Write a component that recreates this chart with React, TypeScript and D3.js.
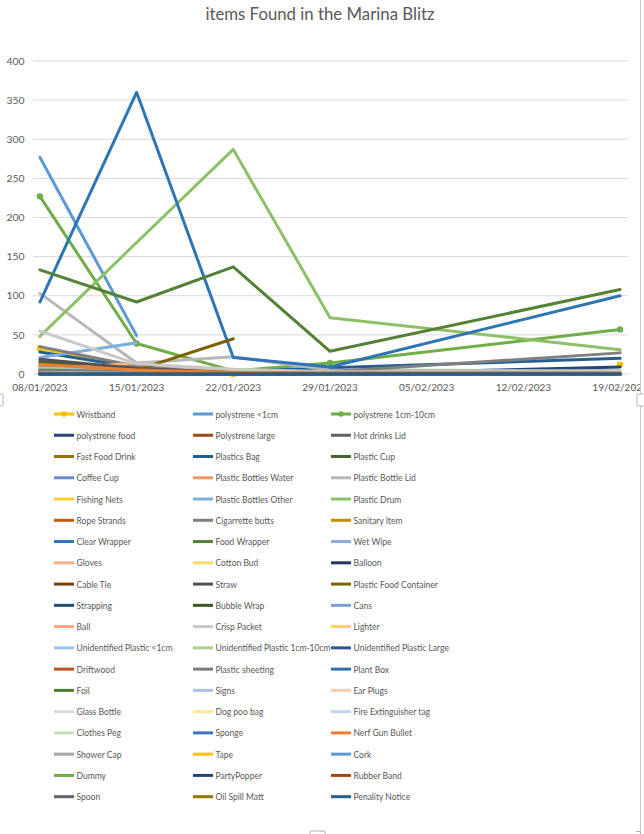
import React from "react";
import * as d3 from "d3";

const W = 644;
const H = 834;

const chartTitle = "items Found in the Marina Blitz";
const sampleDates = ["2023-01-08", "2023-01-15", "2023-01-22", "2023-01-29", "2023-02-19"];
const tickDates = ["2023-01-08", "2023-01-15", "2023-01-22", "2023-01-29", "2023-02-05", "2023-02-12", "2023-02-19"];
const yTicks = [0, 50, 100, 150, 200, 250, 300, 350, 400];

const seriesNames = [
  "Wristband", "polystrene <1cm", "polystrene 1cm-10cm",
  "polystrene food", "Polystrene large", "Hot drinks Lid",
  "Fast Food Drink", "Plastics Bag", "Plastic Cup",
  "Coffee Cup", "Plastic Bottles Water", "Plastic Bottle Lid",
  "Fishing Nets", "Plastic Bottles Other", "Plastic Drum",
  "Rope Strands", "Cigarrette butts", "Sanitary Item",
  "Clear Wrapper", "Food Wrapper", "Wet Wipe",
  "Gloves", "Cotton Bud", "Balloon",
  "Cable Tie", "Straw", "Plastic Food Container",
  "Strapping", "Bubble Wrap", "Cans",
  "Ball", "Crisp Packet", "Lighter",
  "Unidentified Plastic <1cm", "Unidentified Plastic 1cm-10cm", "Unidentified Plastic Large",
  "Driftwood", "Plastic sheeting", "Plant Box",
  "Foil", "Signs", "Ear Plugs",
  "Glass Bottle", "Dog poo bag", "Fire Extinguisher tag",
  "Clothes Peg", "Sponge", "Nerf Gun Bullet",
  "Shower Cap", "Tape", "Cork",
  "Dummy", "PartyPopper", "Rubber Band",
  "Spoon", "Oil Spill Matt", "Penality Notice",
];

const seriesColors = [
  "#FFC000", "#5B9BD5", "#70AD47",
  "#264478", "#9E480E", "#636363",
  "#997300", "#255E91", "#43682B",
  "#698ED0", "#F1975A", "#B7B7B7",
  "#FFCD33", "#7CAFDD", "#8CC168",
  "#C55A11", "#7F7F7F", "#BF9000",
  "#2E75B6", "#548235", "#8FAADC",
  "#F4B183", "#FFD966", "#203864",
  "#843C0C", "#525252", "#7F6000",
  "#1F4E79", "#385723", "#7F9ED8",
  "#F4A582", "#C9C9C9", "#FFD34D",
  "#9DC3E6", "#A9D18E", "#2F5597",
  "#B4561A", "#7B7B7B", "#2E6FB0",
  "#507E32", "#A9BFE5", "#F8CBAD",
  "#DBDBDB", "#FFE699", "#BDD7EE",
  "#C5E0B4", "#4472C4", "#ED7D31",
  "#A5A5A5", "#FFC000", "#5B9BD5",
  "#70AD47", "#264478", "#9E480E",
  "#636363", "#997300", "#255E91",
];

const markerSeries = ["Wristband", "polystrene 1cm-10cm"];

type V = number | null;
const seriesValues: V[][] = [
  [33, 8, 0, null, 12],
  [277, 49, null, null, null],
  [227, 39, 4, 14, 57],
  [5, 3, 3, 0, 9],
  [2, 2, 1, 0, 1],
  [16, 6, 3, 2, 1],
  [3, 5, 2, 0, 0],
  [28, 8, 3, 8, 20],
  [14, 8, 3, 1, 2],
  [6, 3, 1, 1, 1],
  [11, 6, 3, 1, 1],
  [103, 14, 22, 5, 4],
  [3, 2, 1, 0, 0],
  [21, 40, null, null, null],
  [48, 168, 287, 72, 31],
  [9, 5, 2, 1, 1],
  [35, 10, 4, 3, 27],
  [1, 1, 0, 0, 0],
  [92, 360, 21, 9, 100],
  [133, 92, 137, 29, 108],
  [3, 2, 1, 1, 0],
  [5, 14, 3, 2, 2],
  [2, 1, 0, 0, 0],
  [2, 1, 1, 0, 1],
  [2, 2, 1, 1, 0],
  [19, 7, 2, 1, 1],
  [2, 5, 45, null, null],
  [4, 3, 2, 1, 1],
  [1, 1, 0, 0, 0],
  [4, 2, 1, 1, 1],
  [1, 0, 0, 0, 0],
  [55, 13, 6, 3, 3],
  [1, 1, 0, 0, 0],
  [8, 2, 1, 0, 0],
  [6, 3, 2, 1, 1],
  [3, 2, 1, 1, 1],
  [2, 1, 1, 1, 1],
  [5, 3, 2, 1, 1],
  [1, 0, 0, 0, 0],
  [2, 1, 1, 0, 0],
  [1, 1, 0, 0, 0],
  [0, 1, 0, 0, 1],
  [2, 1, 1, 1, 1],
  [1, 0, 0, 0, 0],
  [0, 0, 0, 0, 0],
  [1, 0, 0, 0, 0],
  [1, 1, 0, 0, 0],
  [12, 5, 2, 1, 1],
  [0, 0, 0, 0, 0],
  [1, 0, 0, 0, 0],
  [1, 0, 0, 0, 0],
  [0, 0, 0, 0, 0],
  [0, 0, 0, 0, 0],
  [1, 0, 0, 0, 0],
  [0, 0, 0, 0, 0],
  [0, 0, 1, 0, 0],
  [0, 0, 0, 0, 0],
];

const parse = d3.timeParse("%Y-%m-%d");
const fmt = d3.timeFormat("%d/%m/%Y");

export default function App() {
  const dates = sampleDates.map((s) => parse(s) as Date);
  const ticks = tickDates.map((s) => parse(s) as Date);
  const x0 = d3.timeHour.offset(ticks[0], -12);
  const x1 = d3.timeHour.offset(ticks[ticks.length - 1], 12);
  const x = d3.scaleTime().domain([x0, x1]).range([33, 627]);
  const y = d3.scaleLinear().domain([0, 400]).range([374, 61]);

  const line = d3
    .line<[Date, V]>()
    .defined((d) => d[1] != null)
    .x((d) => x(d[0]))
    .y((d) => y(d[1] as number));

  const textColor = "#595959";
  const font = "Lato, 'Open Sans', sans-serif";

  const legendCols = [54, 193, 331];
  const rowY = (i: number) => 414 + i * 21.26;

  return (
    <svg
      width={W}
      height={H}
      style={{ position: "absolute", left: 0, top: 0, background: "#fff" }}
      fontFamily={font}
    >
      <defs>
        <clipPath id="clipChart">
          <rect x={0} y={0} width={640} height={H} />
        </clipPath>
      </defs>
      <rect x={0} y={0} width={W} height={H} fill="#fff" />
      <g clipPath="url(#clipChart)">
        <text x={320} y={19.5} textAnchor="middle" fontSize={16.8} fill={textColor}>
          {chartTitle}
        </text>
        {yTicks.map((t) => (
          <g key={t}>
            <line x1={33} x2={628} y1={y(t)} y2={y(t)} stroke="#D9D9D9" strokeWidth={1} />
            <text x={24.5} y={y(t)} dy="0.35em" textAnchor="end" fontSize={10.4} fill={textColor}>
              {t}
            </text>
          </g>
        ))}
        {ticks.map((t, i) => (
          <text key={i} x={x(t)} y={391} textAnchor="middle" fontSize={10} fill={textColor}>
            {fmt(t)}
          </text>
        ))}
        {seriesValues.map((vals, si) => {
          const pts: [Date, V][] = vals.map((v, i) => [dates[i], v]);
          const color = seriesColors[si];
          const hasMarker = markerSeries.includes(seriesNames[si]);
          return (
            <g key={si}>
              <path
                d={line(pts) || ""}
                fill="none"
                stroke={color}
                strokeWidth={3}
                strokeLinejoin="round"
                strokeLinecap="round"
              />
              {hasMarker &&
                pts
                  .filter((p) => p[1] != null)
                  .map((p, k) => (
                    <circle key={k} cx={x(p[0])} cy={y(p[1] as number)} r={3.2} fill={color} />
                  ))}
            </g>
          );
        })}
        {seriesNames.map((name, i) => {
          const col = i % 3;
          const row = Math.floor(i / 3);
          const lx = legendCols[col];
          const ly = rowY(row);
          const color = seriesColors[i];
          const hasMarker = markerSeries.includes(name);
          return (
            <g key={name}>
              <line x1={lx} x2={lx + 20} y1={ly} y2={ly} stroke={color} strokeWidth={3} />
              {hasMarker && <circle cx={lx + 10} cy={ly} r={2.8} fill={color} />}
              <text
                transform={`translate(${lx + 22.5},${ly + 3.5}) scale(0.87,1)`}
                fontSize={9.8}
                fill={textColor}
              >
                {name}
              </text>
            </g>
          );
        })}
      </g>
      {/* selection frame and handles */}
      <line x1={640.5} x2={640.5} y1={0} y2={831} stroke="#C8C8C8" strokeWidth={1} />
      <rect x={637} y={394} width={8} height={12} fill="#fff" stroke="#B0B0B0" strokeWidth={1} rx={1} />
      <rect x={-4} y={394} width={7} height={12} fill="#fff" stroke="#B0B0B0" strokeWidth={1} rx={1} />
      <rect x={310} y={831} width={15} height={8} fill="#fff" stroke="#B0B0B0" strokeWidth={1} rx={1} />
      <path d="M636,831.5 H640.5 V835" fill="none" stroke="#B0B0B0" strokeWidth={1} />
    </svg>
  );
}
